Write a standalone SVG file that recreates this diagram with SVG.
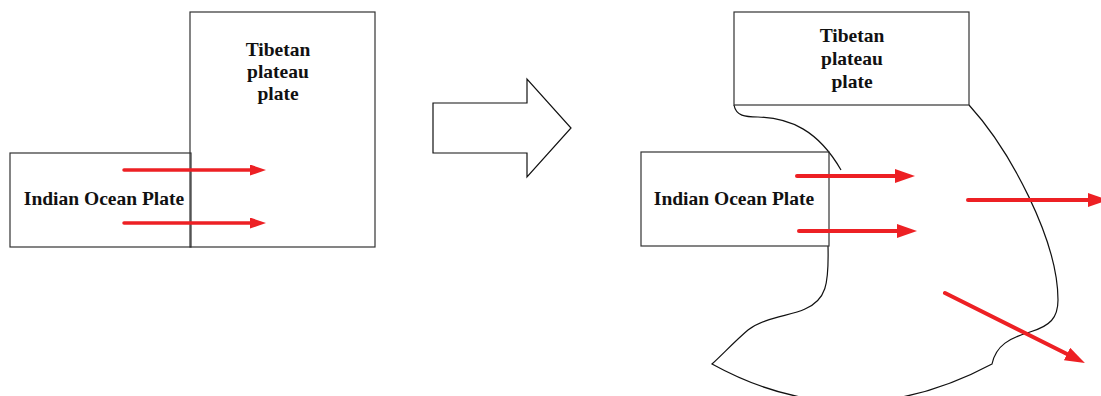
<svg xmlns="http://www.w3.org/2000/svg" width="1101" height="396" viewBox="0 0 1101 396">
  <style>
    .box { fill: none; stroke: #333; stroke-width: 1.2; }
    .edge { fill: none; stroke: #111; stroke-width: 1.2; }
    .lbl { font-family: "Liberation Serif", "Times New Roman", serif; font-weight: bold; font-size: 19.5px; fill: #111; text-anchor: middle; }
    .red { stroke: #ED2024; fill: none; stroke-linecap: round; }
  </style>
  <defs>
    <marker id="headS" markerUnits="userSpaceOnUse" markerWidth="16" markerHeight="11" refX="0" refY="5.5" orient="auto">
      <path d="M0,0 L16,5.5 L0,11 Z" fill="#ED2024"/>
    </marker>
    <marker id="headL" markerUnits="userSpaceOnUse" markerWidth="20" markerHeight="14" refX="0" refY="7" orient="auto">
      <path d="M0,0 L20,7 L0,14 Z" fill="#ED2024"/>
    </marker>
  </defs>

  <!-- Left: before collision -->
  <g id="indian-left">
    <rect class="box" x="10" y="153" width="181" height="94"/>
    <text class="lbl" x="104" y="205">Indian Ocean Plate</text>
  </g>
  <g id="tibet-left">
    <rect class="box" x="190" y="12" width="185" height="235"/>
    <text class="lbl" x="278" y="56">Tibetan</text>
    <text class="lbl" x="278" y="78">plateau</text>
    <text class="lbl" x="278" y="100">plate</text>
  </g>

  <!-- Transition arrow -->
  <g id="transition-arrow">
    <polygon class="edge" points="433,103 527,103 527,79 571,128 527,177 527,153 433,153"/>
  </g>

  <!-- Right: after collision -->
  <g id="deformed-plate">
    <path class="edge" d="M734,105 C736,116 745,117 758,117 C790,118 818,130 841,170"/>
    <path class="edge" d="M828,246 C829,285 826,300 805,309 C790,316 765,317 748,330 C735,341 722,355 712,364 Q850,440 992,364 C996,345 1010,338 1030,332 C1050,326 1058,318 1058,300 C1058,240 1010,150 969,105"/>
  </g>
  <g id="tibet-right">
    <rect class="box" x="734" y="12" width="235" height="93"/>
    <text class="lbl" x="852" y="42">Tibetan</text>
    <text class="lbl" x="852" y="65">plateau</text>
    <text class="lbl" x="852" y="88">plate</text>
  </g>
  <g id="indian-right">
    <rect class="box" x="641" y="152" width="188" height="94"/>
    <text class="lbl" x="734" y="205">Indian Ocean Plate</text>
  </g>

  <!-- Motion arrows -->
  <g id="connectors">
    <line class="red" stroke-width="3.5" x1="124" y1="170" x2="250" y2="170" marker-end="url(#headS)"/>
    <line class="red" stroke-width="3.5" x1="124" y1="223" x2="250" y2="223" marker-end="url(#headS)"/>
    <line class="red" stroke-width="4" x1="797" y1="176" x2="895" y2="176" marker-end="url(#headL)"/>
    <line class="red" stroke-width="4" x1="799" y1="231" x2="897" y2="231" marker-end="url(#headL)"/>
    <line class="red" stroke-width="4" x1="968" y1="200" x2="1088" y2="200" marker-end="url(#headL)"/>
    <line class="red" stroke-width="4" x1="945" y1="293" x2="1067" y2="354" marker-end="url(#headL)"/>
  </g>
</svg>
